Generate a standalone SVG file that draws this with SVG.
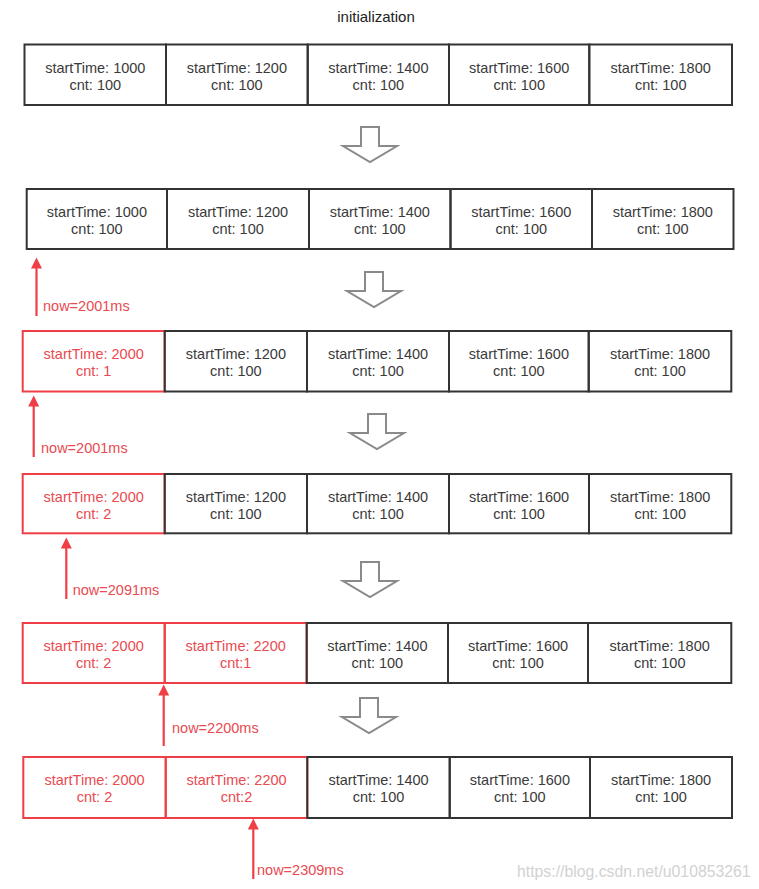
<svg xmlns="http://www.w3.org/2000/svg" width="759" height="889" viewBox="0 0 759 889">
<style>
  text { font-family: "Liberation Sans", Arial, sans-serif; }
  .bg { fill: #ffffff; }
  .cell { fill: none; stroke: #333333; stroke-width: 2; }
  .cell.red { stroke: #ef3e45; }
  .t { font-size: 14.5px; fill: #3a3a3a; text-anchor: middle; }
  .t.red { fill: #ea4a50; }
  .title { font-size: 15px; fill: #222222; text-anchor: middle; }
  .down { fill: #ffffff; stroke: #8a8a8a; stroke-width: 2; stroke-linejoin: miter; }
  .ptr { stroke: #ef3e45; stroke-width: 2.2; fill: none; }
  .ptrhead { fill: #ef3e45; }
  .lbl { font-size: 14.5px; fill: #ea4a50; }
  .wm { font-size: 15.8px; fill: #d2d2d2; }
</style>
<defs>
  <path id="downArrow" d="M -9 0 H 9 V 19 H 27 L 0 35 L -27 19 H -9 Z"/>
  <path id="ptrHead" d="M 0 0 L 5.5 11 L -5.5 11 Z"/>
</defs>
<rect class="bg" x="0" y="0" width="759" height="889"/>

<text class="title" x="376" y="22">initialization</text>

<!-- Row 1 -->
<g id="row1">
  <g id="r1c1"><rect class="cell" x="24.5" y="44.5" width="141.5" height="60.5"/><text class="t" x="95.3" y="72.5">startTime: 1000</text><text class="t" x="95.3" y="89.5">cnt: 100</text></g>
  <g id="r1c2"><rect class="cell" x="166" y="44.5" width="141.7" height="60.5"/><text class="t" x="236.9" y="72.5">startTime: 1200</text><text class="t" x="236.9" y="89.5">cnt: 100</text></g>
  <g id="r1c3"><rect class="cell" x="307.7" y="44.5" width="141.3" height="60.5"/><text class="t" x="378.4" y="72.5">startTime: 1400</text><text class="t" x="378.4" y="89.5">cnt: 100</text></g>
  <g id="r1c4"><rect class="cell" x="449" y="44.5" width="140.3" height="60.5"/><text class="t" x="519.2" y="72.5">startTime: 1600</text><text class="t" x="519.2" y="89.5">cnt: 100</text></g>
  <g id="r1c5"><rect class="cell" x="589.3" y="44.5" width="142.7" height="60.5"/><text class="t" x="660.7" y="72.5">startTime: 1800</text><text class="t" x="660.7" y="89.5">cnt: 100</text></g>
</g>

<!-- Row 2 -->
<g id="row2">
  <g id="r2c1"><rect class="cell" x="26.7" y="189" width="140.3" height="60"/><text class="t" x="96.9" y="216.5">startTime: 1000</text><text class="t" x="96.9" y="233.5">cnt: 100</text></g>
  <g id="r2c2"><rect class="cell" x="167" y="189" width="142" height="60"/><text class="t" x="238" y="216.5">startTime: 1200</text><text class="t" x="238" y="233.5">cnt: 100</text></g>
  <g id="r2c3"><rect class="cell" x="309" y="189" width="141.5" height="60"/><text class="t" x="379.8" y="216.5">startTime: 1400</text><text class="t" x="379.8" y="233.5">cnt: 100</text></g>
  <g id="r2c4"><rect class="cell" x="450.5" y="189" width="141.5" height="60"/><text class="t" x="521.3" y="216.5">startTime: 1600</text><text class="t" x="521.3" y="233.5">cnt: 100</text></g>
  <g id="r2c5"><rect class="cell" x="592" y="189" width="141.5" height="60"/><text class="t" x="662.8" y="216.5">startTime: 1800</text><text class="t" x="662.8" y="233.5">cnt: 100</text></g>
</g>

<!-- Row 3 -->
<g id="row3">
  <g id="r3c1"><rect class="cell red" x="22.7" y="331" width="142" height="60.5"/><text class="t red" x="93.7" y="359">startTime: 2000</text><text class="t red" x="93.7" y="376">cnt: 1</text></g>
  <g id="r3c2"><rect class="cell" x="164.7" y="331" width="142.3" height="60.5"/><text class="t" x="235.9" y="359">startTime: 1200</text><text class="t" x="235.9" y="376">cnt: 100</text></g>
  <g id="r3c3"><rect class="cell" x="307" y="331" width="142" height="60.5"/><text class="t" x="378" y="359">startTime: 1400</text><text class="t" x="378" y="376">cnt: 100</text></g>
  <g id="r3c4"><rect class="cell" x="449" y="331" width="139.7" height="60.5"/><text class="t" x="518.9" y="359">startTime: 1600</text><text class="t" x="518.9" y="376">cnt: 100</text></g>
  <g id="r3c5"><rect class="cell" x="588.7" y="331" width="142.6" height="60.5"/><text class="t" x="660" y="359">startTime: 1800</text><text class="t" x="660" y="376">cnt: 100</text></g>
</g>

<!-- Row 4 -->
<g id="row4">
  <g id="r4c1"><rect class="cell red" x="22.7" y="474" width="142" height="59.3"/><text class="t red" x="93.7" y="501.5">startTime: 2000</text><text class="t red" x="93.7" y="518.5">cnt: 2</text></g>
  <g id="r4c2"><rect class="cell" x="164.7" y="474" width="142.3" height="59.3"/><text class="t" x="235.9" y="501.5">startTime: 1200</text><text class="t" x="235.9" y="518.5">cnt: 100</text></g>
  <g id="r4c3"><rect class="cell" x="307" y="474" width="142" height="59.3"/><text class="t" x="378" y="501.5">startTime: 1400</text><text class="t" x="378" y="518.5">cnt: 100</text></g>
  <g id="r4c4"><rect class="cell" x="449" y="474" width="140" height="59.3"/><text class="t" x="519" y="501.5">startTime: 1600</text><text class="t" x="519" y="518.5">cnt: 100</text></g>
  <g id="r4c5"><rect class="cell" x="589" y="474" width="142.3" height="59.3"/><text class="t" x="660.2" y="501.5">startTime: 1800</text><text class="t" x="660.2" y="518.5">cnt: 100</text></g>
</g>

<!-- Row 5 -->
<g id="row5">
  <g id="r5c1"><rect class="cell red" x="22.7" y="623" width="142" height="60"/><text class="t red" x="93.7" y="650.5">startTime: 2000</text><text class="t red" x="93.7" y="667.5">cnt: 2</text></g>
  <g id="r5c2"><rect class="cell red" x="164.7" y="623" width="142" height="60"/><text class="t red" x="235.7" y="650.5">startTime: 2200</text><text class="t red" x="235.7" y="667.5">cnt:1</text></g>
  <g id="r5c3"><rect class="cell" x="306.7" y="623" width="141.3" height="60"/><text class="t" x="377.4" y="650.5">startTime: 1400</text><text class="t" x="377.4" y="667.5">cnt: 100</text></g>
  <g id="r5c4"><rect class="cell" x="448" y="623" width="140" height="60"/><text class="t" x="518" y="650.5">startTime: 1600</text><text class="t" x="518" y="667.5">cnt: 100</text></g>
  <g id="r5c5"><rect class="cell" x="588" y="623" width="143.3" height="60"/><text class="t" x="659.7" y="650.5">startTime: 1800</text><text class="t" x="659.7" y="667.5">cnt: 100</text></g>
</g>

<!-- Row 6 -->
<g id="row6">
  <g id="r6c1"><rect class="cell red" x="23.3" y="757" width="142.4" height="61"/><text class="t red" x="94.5" y="785">startTime: 2000</text><text class="t red" x="94.5" y="802">cnt: 2</text></g>
  <g id="r6c2"><rect class="cell red" x="165.7" y="757" width="141.6" height="61"/><text class="t red" x="236.5" y="785">startTime: 2200</text><text class="t red" x="236.5" y="802">cnt:2</text></g>
  <g id="r6c3"><rect class="cell" x="307.3" y="757" width="142.4" height="61"/><text class="t" x="378.5" y="785">startTime: 1400</text><text class="t" x="378.5" y="802">cnt: 100</text></g>
  <g id="r6c4"><rect class="cell" x="449.7" y="757" width="140.3" height="61"/><text class="t" x="519.9" y="785">startTime: 1600</text><text class="t" x="519.9" y="802">cnt: 100</text></g>
  <g id="r6c5"><rect class="cell" x="590" y="757" width="142" height="61"/><text class="t" x="661" y="785">startTime: 1800</text><text class="t" x="661" y="802">cnt: 100</text></g>
</g>

<!-- Connectors -->
<g id="connectors">
  <use href="#downArrow" class="down" x="370" y="127"/>
  <use href="#downArrow" class="down" x="374" y="272"/>
  <use href="#downArrow" class="down" x="377" y="414"/>
  <use href="#downArrow" class="down" x="370" y="562"/>
  <use href="#downArrow" class="down" x="369" y="698"/>

  <line class="ptr" x1="36.5" y1="266" x2="36.5" y2="316"/>
  <use href="#ptrHead" class="ptrhead" x="36.5" y="257.5"/>
  <line class="ptr" x1="33.7" y1="404" x2="33.7" y2="457"/>
  <use href="#ptrHead" class="ptrhead" x="33.7" y="395.5"/>
  <line class="ptr" x1="66.3" y1="546" x2="66.3" y2="599"/>
  <use href="#ptrHead" class="ptrhead" x="66.3" y="537.5"/>
  <line class="ptr" x1="163.7" y1="693" x2="163.7" y2="746"/>
  <use href="#ptrHead" class="ptrhead" x="163.7" y="684.5"/>
  <line class="ptr" x1="253.3" y1="827" x2="253.3" y2="879"/>
  <use href="#ptrHead" class="ptrhead" x="253.3" y="818.5"/>
</g>

<g id="labels">
  <text class="lbl" x="43" y="310.5">now=2001ms</text>
  <text class="lbl" x="41" y="452.5">now=2001ms</text>
  <text class="lbl" x="72.7" y="594.5">now=2091ms</text>
  <text class="lbl" x="172" y="733">now=2200ms</text>
  <text class="lbl" x="257" y="874.5">now=2309ms</text>
</g>

<text class="wm" x="517" y="877">https://blog.csdn.net/u010853261</text>
</svg>
